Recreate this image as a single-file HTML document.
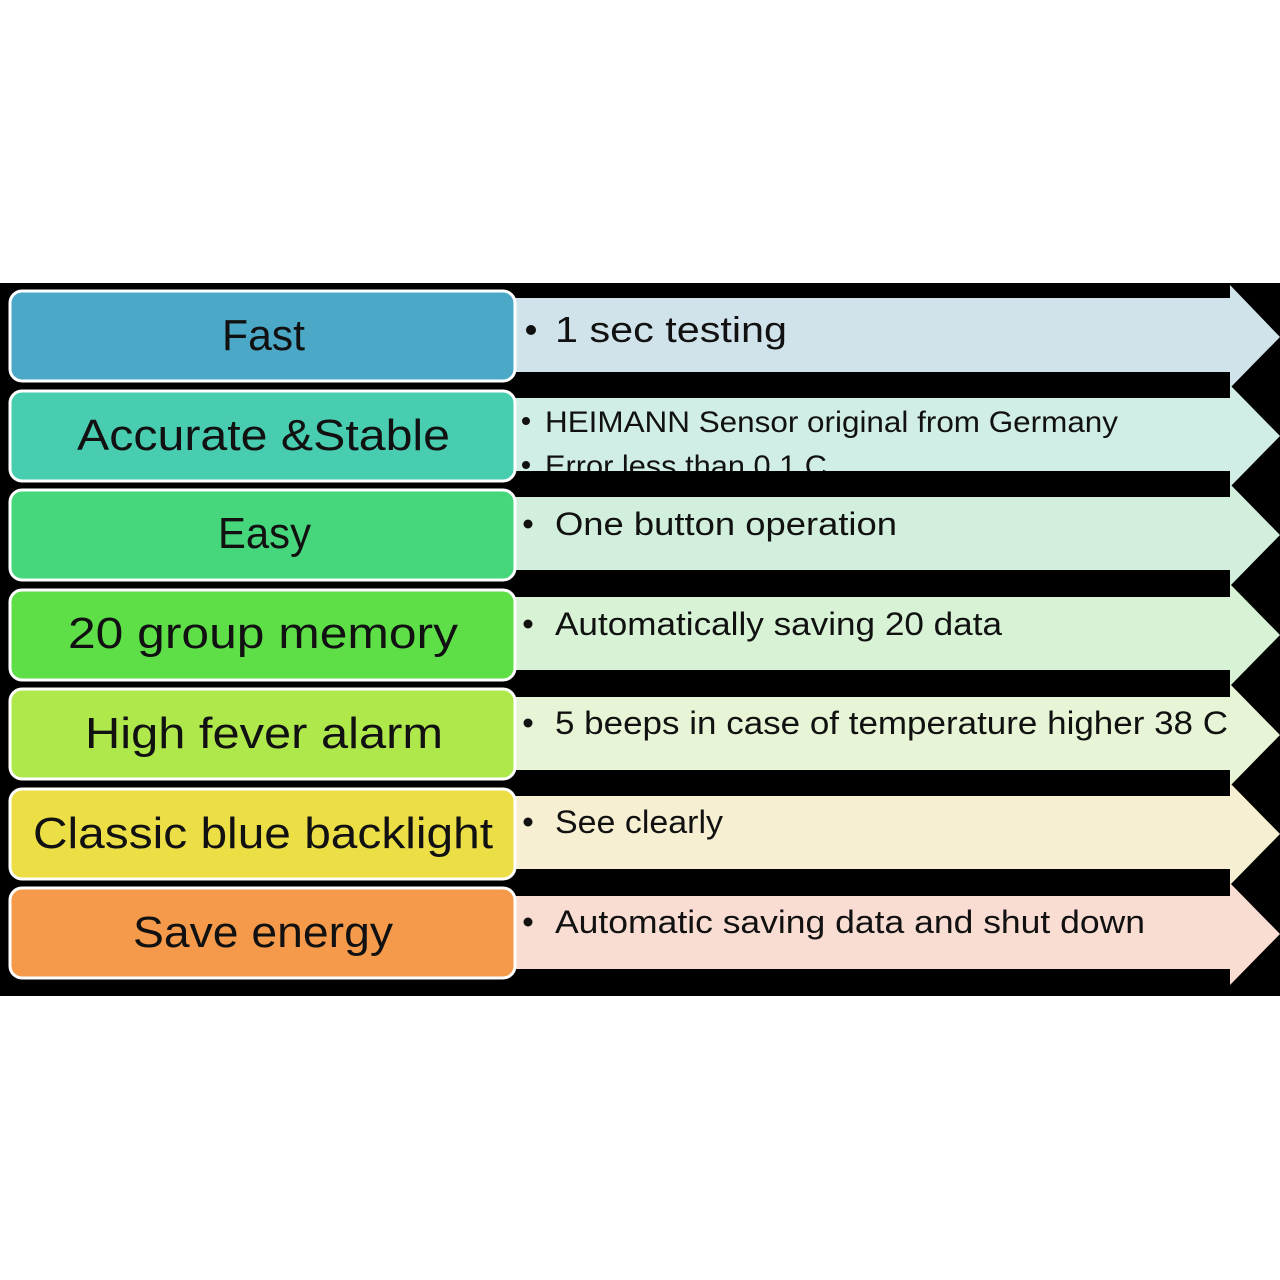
<!DOCTYPE html>
<html><head><meta charset="utf-8"><style>
html,body{margin:0;padding:0;background:#fff;width:1280px;height:1280px;overflow:hidden}
svg{display:block}
text{font-family:"Liberation Sans",sans-serif;fill:#111}
</style></head><body>
<svg width="1280" height="1280" viewBox="0 0 1280 1280" xmlns="http://www.w3.org/2000/svg">
<defs><clipPath id="c2"><rect x="515" y="398" width="760" height="73"/></clipPath></defs>
<rect x="0" y="283" width="1280" height="713" fill="#000"/>
<!-- arrows -->
<g>
<polygon points="515,298 1230,298 1230,285 1280,337 1230,388 1230,372 515,372" fill="#d1e3ea"/>
<polygon points="515,398 1230,398 1230,385 1280,436 1230,487 1230,471 515,471" fill="#d1eee6"/>
<polygon points="515,497 1230,497 1230,484 1280,535 1230,586 1230,570 515,570" fill="#d1efdc"/>
<polygon points="515,597 1230,597 1230,584 1280,635 1230,686 1230,670 515,670" fill="#d7f2d4"/>
<polygon points="515,697 1230,697 1230,684 1280,735 1230,786 1230,770 515,770" fill="#e7f4d6"/>
<polygon points="515,796 1230,796 1230,783 1280,834 1230,885 1230,869 515,869" fill="#f7efd1"/>
<polygon points="515,896 1230,896 1230,883 1280,934 1230,985 1230,969 515,969" fill="#f9ddd2"/>
</g>
<!-- left boxes -->
<g stroke="#fff" stroke-width="3">
<rect x="10" y="291" width="505" height="90" rx="12" fill="#4ba8c7"/>
<rect x="10" y="391" width="505" height="90" rx="12" fill="#48cdb1"/>
<rect x="10" y="490" width="505" height="90" rx="12" fill="#46d67b"/>
<rect x="10" y="590" width="505" height="90" rx="12" fill="#5edf48"/>
<rect x="10" y="689" width="505" height="90" rx="12" fill="#aee84b"/>
<rect x="10" y="789" width="505" height="90" rx="12" fill="#ecdf46"/>
<rect x="10" y="888" width="505" height="90" rx="12" fill="#f59a4b"/>
</g>
<g font-size="44">
<text x="222" y="350" textLength="83" lengthAdjust="spacingAndGlyphs">Fast</text>
<text x="77" y="450" textLength="373" lengthAdjust="spacingAndGlyphs">Accurate &amp;Stable</text>
<text x="218" y="548" textLength="93" lengthAdjust="spacingAndGlyphs">Easy</text>
<text x="68" y="648" textLength="390" lengthAdjust="spacingAndGlyphs">20 group memory</text>
<text x="85" y="748" textLength="358" lengthAdjust="spacingAndGlyphs">High fever alarm</text>
<text x="33" y="848" textLength="460" lengthAdjust="spacingAndGlyphs">Classic blue backlight</text>
<text x="133" y="947" textLength="260" lengthAdjust="spacingAndGlyphs">Save energy</text>
</g>
<!-- bullets -->
<g fill="#111">
<circle cx="531" cy="330" r="5"/>
<circle cx="526" cy="421" r="4"/>
<circle cx="528" cy="524" r="4.5"/>
<circle cx="528" cy="624" r="4.5"/>
<circle cx="528" cy="723" r="4.5"/>
<circle cx="528" cy="822" r="4.5"/>
<circle cx="528" cy="922" r="4.5"/>
</g>
<text x="555" y="342" font-size="36" textLength="232" lengthAdjust="spacingAndGlyphs">1 sec testing</text>
<text x="545" y="432" font-size="30" textLength="573" lengthAdjust="spacingAndGlyphs">HEIMANN Sensor original from Germany</text>
<g clip-path="url(#c2)">
<circle cx="526" cy="465" r="4" fill="#111"/>
<text x="545" y="476" font-size="30" textLength="282" lengthAdjust="spacingAndGlyphs">Error less than 0.1 C</text>
</g>
<g font-size="32">
<text x="555" y="535" textLength="342" lengthAdjust="spacingAndGlyphs">One button operation</text>
<text x="555" y="635" textLength="447" lengthAdjust="spacingAndGlyphs">Automatically saving 20 data</text>
<text x="555" y="734" textLength="673" lengthAdjust="spacingAndGlyphs">5 beeps in case of temperature higher 38 C</text>
<text x="555" y="833" textLength="168" lengthAdjust="spacingAndGlyphs">See clearly</text>
<text x="555" y="933" textLength="590" lengthAdjust="spacingAndGlyphs">Automatic saving data and shut down</text>
</g>
</svg>
</body></html>
